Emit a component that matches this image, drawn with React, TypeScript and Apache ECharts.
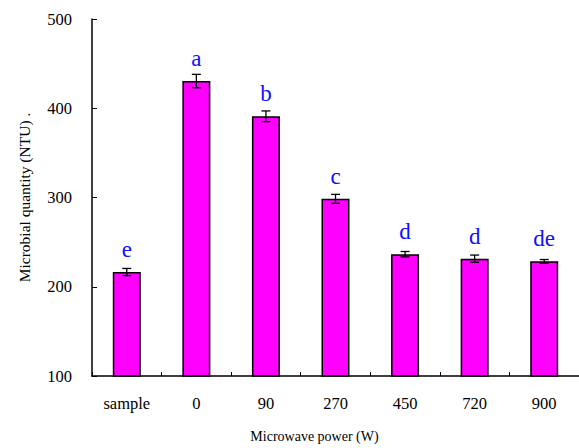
import React, { useEffect, useRef } from "react";
import * as echarts from "echarts";

const categories = ["sample", "0", "90", "270", "450", "720", "900"];
const values = [216.5, 430.5, 391, 298.5, 236.5, 231.5, 228.5];
const errors = [4, 7.5, 6, 5, 3, 4, 2];
const letters = ["e", "a", "b", "c", "d", "d", "de"];
const yTicks = { min: 100, max: 500, interval: 100 };

const serif = "Liberation Serif";

export default function App() {
  const ref = useRef<HTMLDivElement>(null);
  useEffect(() => {
    if (!ref.current) return;
    const chart = echarts.init(ref.current, null, { renderer: "svg" });
    const errData = values.map((v, i) => [i, v - errors[i], v + errors[i]]);
    chart.setOption({
      animation: false,
      backgroundColor: "#ffffff",
      grid: { left: 92, top: 19, width: 488, bottom: 72 },
      xAxis: {
        type: "category",
        data: categories,
        boundaryGap: true,
        name: "Microwave power (W)",
        nameLocation: "middle",
        nameGap: 53,
        nameTextStyle: { fontFamily: serif, fontSize: 14, color: "#000", padding: [0, 42, 0, 0] },
        axisLine: { lineStyle: { color: "#000", width: 1.5 } },
        axisTick: { show: true, inside: true, length: 4, alignWithLabel: false, lineStyle: { color: "#000", width: 1 } },
        axisLabel: { fontFamily: serif, fontSize: 16.5, color: "#000", margin: 19 },
        splitLine: { show: false },
      },
      yAxis: {
        type: "value",
        min: yTicks.min,
        max: yTicks.max,
        interval: yTicks.interval,
        name: "Microbial quantity (NTU) .",
        nameLocation: "middle",
        nameGap: 60,
        nameTextStyle: { fontFamily: serif, fontSize: 15.5, color: "#000" },
        axisLine: { show: true, lineStyle: { color: "#000", width: 1.5 } },
        axisTick: { show: true, inside: true, length: 5, lineStyle: { color: "#000", width: 1 } },
        axisLabel: { fontFamily: serif, fontSize: 16.5, color: "#000", margin: 20 },
        splitLine: { show: false },
      },
      series: [
        {
          type: "bar",
          data: values,
          barWidth: 28,
          itemStyle: { color: "#ff00ff", borderColor: "#000", borderWidth: 1.5 },
          label: {
            show: true,
            position: "top",
            distance: 11,
            formatter: (p: any) => letters[p.dataIndex],
            fontFamily: serif,
            fontSize: 23,
            color: "#1010ff",
          },
          z: 2,
        },
        {
          type: "custom",
          data: errData,
          z: 3,
          renderItem: (params: any, api: any) => {
            const x = api.coord([api.value(0), api.value(1)])[0];
            const lo = api.coord([api.value(0), api.value(1)])[1];
            const hi = api.coord([api.value(0), api.value(2)])[1];
            const hw = 4.5;
            const style = { stroke: "#000", lineWidth: 1.3 };
            return {
              type: "group",
              children: [
                { type: "line", shape: { x1: x, y1: lo, x2: x, y2: hi }, style },
                { type: "line", shape: { x1: x - hw, y1: lo, x2: x + hw, y2: lo }, style },
                { type: "line", shape: { x1: x - hw, y1: hi, x2: x + hw, y2: hi }, style },
              ],
            };
          },
        },
      ],
    });
    return () => chart.dispose();
  }, []);
  return (
    <div
      ref={ref}
      style={{ position: "fixed", left: 0, top: 0, width: 579, height: 448, background: "#fff" }}
    />
  );
}
